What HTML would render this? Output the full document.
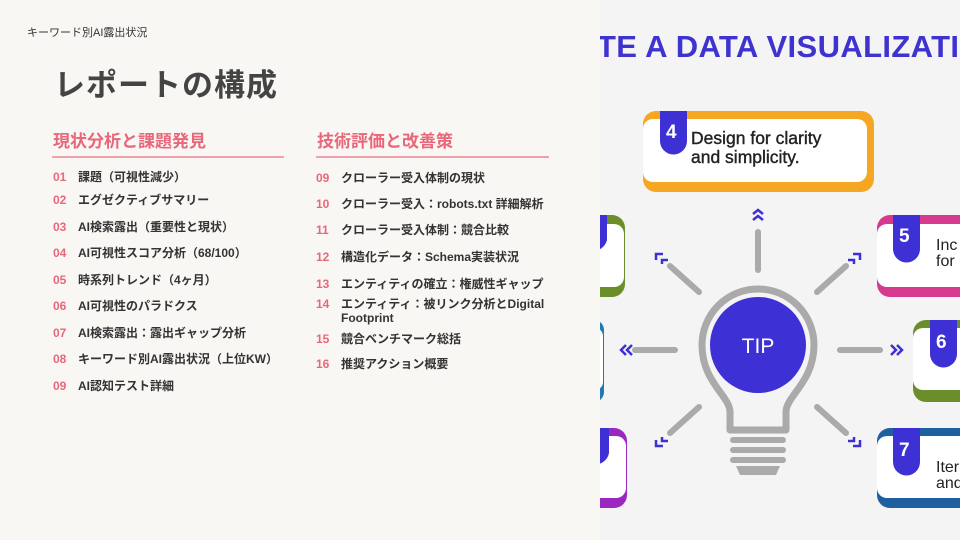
<!DOCTYPE html>
<html><head><meta charset="utf-8"><style>
body{margin:0;width:960px;height:540px;overflow:hidden;background:#f9f7f4;font-family:"Liberation Sans","Noto Sans CJK JP",sans-serif;position:relative}
.a{position:absolute;white-space:nowrap}
.hd{font-size:11px;color:#333;left:27px;top:24px}
.tt{font-size:31px;font-weight:bold;color:#444;left:54px;top:60px;letter-spacing:1px}
.sec{font-size:17px;font-weight:bold;color:#e8677a}
.ln{position:absolute;height:2px;background:#eea1aa}
.it{position:absolute;font-size:12px;font-weight:bold;color:#333;white-space:nowrap}
.it b{color:#e8677a;display:inline-block;width:25px}
</style></head><body>
<div class="a hd">キーワード別AI露出状況</div>
<div class="a tt">レポートの構成</div>
<div class="a sec" style="left:53px;top:127px">現状分析と課題発見</div>
<div class="ln" style="left:52px;top:156px;width:232px"></div>
<div class="a sec" style="left:317px;top:127px">技術評価と改善策</div>
<div class="ln" style="left:316px;top:156px;width:233px"></div>
<div class="it" style="left:53px;top:168px"><b>01</b>課題（可視性減少）</div>
<div class="it" style="left:53px;top:191px"><b>02</b>エグゼクティブサマリー</div>
<div class="it" style="left:53px;top:218px"><b>03</b>AI検索露出（重要性と現状）</div>
<div class="it" style="left:53px;top:244px"><b>04</b>AI可視性スコア分析（68/100）</div>
<div class="it" style="left:53px;top:271px"><b>05</b>時系列トレンド（4ヶ月）</div>
<div class="it" style="left:53px;top:297px"><b>06</b>AI可視性のパラドクス</div>
<div class="it" style="left:53px;top:324px"><b>07</b>AI検索露出：露出ギャップ分析</div>
<div class="it" style="left:53px;top:350px"><b>08</b>キーワード別AI露出状況（上位KW）</div>
<div class="it" style="left:53px;top:377px"><b>09</b>AI認知テスト詳細</div>
<div class="it" style="left:316px;top:169px"><b>09</b>クローラー受入体制の現状</div>
<div class="it" style="left:316px;top:195px"><b>10</b>クローラー受入：robots.txt 詳細解析</div>
<div class="it" style="left:316px;top:221px"><b>11</b>クローラー受入体制：競合比較</div>
<div class="it" style="left:316px;top:248px"><b>12</b>構造化データ：Schema実装状況</div>
<div class="it" style="left:316px;top:275px"><b>13</b>エンティティの確立：権威性ギャップ</div>
<div class="it" style="left:316px;top:297px;line-height:14px"><b>14</b>エンティティ：被リンク分析とDigital<br><span style="padding-left:25px">Footprint</span></div>
<div class="it" style="left:316px;top:330px"><b>15</b>競合ベンチマーク総括</div>
<div class="it" style="left:316px;top:355px"><b>16</b>推奨アクション概要</div>

<svg class="a" style="left:600px;top:0" width="360" height="540" viewBox="600 0 360 540">
<rect x="600" y="0" width="360" height="540" fill="#f4f4f4"/>
<text x="597" y="57" font-family="Liberation Sans" font-weight="bold" font-size="31" fill="#3f33d0" textLength="362">TE A DATA VISUALIZATI</text>
<rect x="643" y="111" width="231" height="81" rx="13" fill="#f5a623"/>
<rect x="643" y="119" width="224" height="63" rx="10" fill="#fff"/>
<path d="M660 111h27v30a13.5 13.5 0 0 1-27 0z" fill="#3d30d4"/>
<text x="666" y="138" font-size="19" font-weight="bold" fill="#fff">4</text>
<text x="691" y="144" font-size="17.5" fill="#222" stroke="#222" stroke-width="0.4">Design for clarity</text>
<text x="691" y="163" font-size="17.5" fill="#222" stroke="#222" stroke-width="0.4">and simplicity.</text>
<rect x="877" y="215" width="100" height="82" rx="13" fill="#d63a8e"/>
<rect x="877" y="224" width="100" height="63" rx="10" fill="#fff"/>
<path d="M893 215h27v34a13.5 13.5 0 0 1-27 0z" fill="#3d30d4"/>
<text x="899" y="242" font-size="19" font-weight="bold" fill="#fff">5</text>
<text x="936" y="250" font-size="16" fill="#222">Inc</text><text x="936" y="266" font-size="16" fill="#222">for</text>
<rect x="913" y="320" width="60" height="82" rx="13" fill="#6a8e2a"/>
<rect x="913" y="328" width="60" height="62" rx="10" fill="#fff"/>
<path d="M930 320h27v34a13.5 13.5 0 0 1-27 0z" fill="#3d30d4"/>
<text x="936" y="348" font-size="19" font-weight="bold" fill="#fff">6</text>
<rect x="877" y="428" width="100" height="80" rx="13" fill="#1e5fa0"/>
<rect x="877" y="436" width="100" height="62" rx="10" fill="#fff"/>
<path d="M893 428h27v34a13.5 13.5 0 0 1-27 0z" fill="#3d30d4"/>
<text x="899" y="456" font-size="19" font-weight="bold" fill="#fff">7</text>
<text x="936" y="472" font-size="16" fill="#222">Iter</text><text x="936" y="488" font-size="16" fill="#222">and</text>
<rect x="560" y="215" width="65" height="82" rx="13" fill="#6a8e2a"/>
<rect x="560" y="224" width="64" height="63" rx="10" fill="#fff"/>
<path d="M590 215h17v25a13.5 13.5 0 0 1-17 10z" fill="#3d30d4"/>
<rect x="560" y="320" width="44" height="82" rx="10" fill="#1e7ab0"/>
<rect x="560" y="328" width="43" height="62" rx="8" fill="#fff"/>
<rect x="560" y="428" width="67" height="80" rx="13" fill="#9a28c0"/>
<rect x="560" y="436" width="66" height="62" rx="10" fill="#fff"/>
<path d="M590 428h19v25a13.5 13.5 0 0 1-19 10z" fill="#3d30d4"/>
<g stroke="#aaa" stroke-width="6" stroke-linecap="round" fill="none">
<line x1="758" y1="232" x2="758" y2="270"/>
<line x1="670" y1="266" x2="699" y2="292"/>
<line x1="846" y1="266" x2="817" y2="292"/>
<line x1="635" y1="350" x2="675" y2="350"/>
<line x1="840" y1="350" x2="880" y2="350"/>
<line x1="699" y1="407" x2="670" y2="433"/>
<line x1="817" y1="407" x2="846" y2="433"/>
</g>
<g stroke="#3d30d4" stroke-width="2.5" fill="none">
<path d="M753 214l5-4 5 4M753 220l5-4 5 4"/>
<path d="M656 260v-6h7M662 264v-4h6"/>
<path d="M860 260v-6h-7M854 264v-4h-6"/>
<path d="M626 345l-5 5 5 5M632 345l-5 5 5 5"/>
<path d="M891 345l5 5-5 5M897 345l5 5-5 5"/>
<path d="M656 440v6h7M662 437v4h6"/>
<path d="M860 440v6h-7M854 437v4h-6"/>
</g>
<path d="M730 430 V412 C730 396 702 382 702 345 A56 56 0 0 1 814 345 C814 382 786 396 786 412 V430 Z" fill="none" stroke="#aaa" stroke-width="7" stroke-linejoin="round"/>
<circle cx="758" cy="345" r="48" fill="#3d30d4"/>
<text x="758" y="353" text-anchor="middle" font-size="21" fill="#fff">TIP</text>
<g stroke="#aaa" stroke-width="6" stroke-linecap="round"><line x1="733" y1="440" x2="783" y2="440"/><line x1="733" y1="450" x2="783" y2="450"/><line x1="733" y1="460" x2="783" y2="460"/></g>
<path d="M736 466h44l-4 9h-36z" fill="#aaa"/>
</svg>
</body></html>
